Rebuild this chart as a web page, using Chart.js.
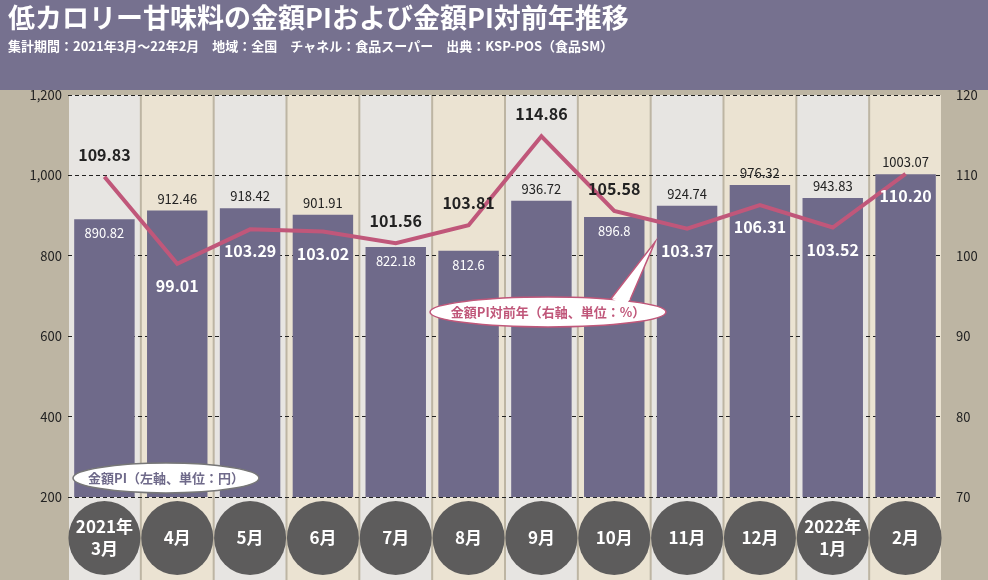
<!DOCTYPE html><html><head><meta charset="utf-8">
<script src="https://cdn.jsdelivr.net/npm/chart.js@4"></script>
<style>body{margin:0;background:#fff}#w{width:988px;height:580px;position:relative}</style></head><body><div id="w"><canvas id="c" width="988" height="580"></canvas></div>
<script>
const months=['2021年\n3月','4月','5月','6月','7月','8月','9月','10月','11月','12月','2022年\n1月','2月'];
const amountPI=[890.82,912.46,918.42,901.91,822.18,812.6,936.72,896.8,924.74,976.32,943.83,1003.07];
const yoy=[109.83,99.01,103.29,103.02,101.56,103.81,114.86,105.58,103.37,106.31,103.52,110.20];
const yoyLabels=['109.83','99.01','103.29','103.02','101.56','103.81','114.86','105.58','103.37','106.31','103.52','110.20'];
const barLabelInside=[true,false,false,false,true,true,false,true,false,false,false,false];
const yoyLabelAbove=[true,false,false,false,true,true,true,true,false,false,false,false];
const leftTicks=[200,400,600,800,1000,1200];
const rightTicks=[70,80,90,100,110,120];
const F='"Noto Sans CJK JP","Noto Sans",sans-serif';
function ellipse(ctx,cx,cy,rx,ry){ctx.beginPath();ctx.ellipse(cx,cy,rx,ry,0,0,Math.PI*2);}
const deco={id:'deco',
beforeDraw(ch){const c=ch.ctx,a=ch.chartArea;c.save();
c.fillStyle='#bdb5a3';c.fillRect(0,0,988,580);
c.fillStyle='#76718f';c.fillRect(0,0,988,90);
const w=(a.right-a.left)/months.length;
months.forEach((m,i)=>{c.fillStyle=i%2?'#ebe3d2':'#e7e5e2';c.fillRect(a.left+i*w+1,a.top,w-2,580-a.top);});
c.fillStyle='#fff';c.font='bold 27px '+F;c.textBaseline='top';c.fillText('低カロリー甘味料の金額PIおよび金額PI対前年推移',8,4);
c.font='bold 13px '+F;c.fillText('集計期間：2021年3月～22年2月　地域：全国　チャネル：食品スーパー　出典：KSP-POS（食品SM）',8,40);
c.restore();},
afterDraw(ch){const c=ch.ctx,x=ch.scales.x,yL=ch.scales.y,yR=ch.scales.y1;c.save();
c.textAlign='center';c.textBaseline='middle';
months.forEach((m,i)=>{const cx=x.getPixelForValue(i);c.fillStyle='#5d5c5c';ellipse(c,cx,538,36,37);c.fill();
c.fillStyle='#fff';c.font='bold 17px '+F;const ls=m.split('\n');ls.forEach((l,j)=>c.fillText(l,cx,538+(j-(ls.length-1)/2)*22));
const by=yL.getPixelForValue(amountPI[i]);c.font='13px '+F;
if(barLabelInside[i]){c.fillStyle='#fff';c.fillText(amountPI[i],cx,by+14);}else{c.fillStyle='#222';c.fillText(amountPI[i],cx,by-12);}
const ly=yR.getPixelForValue(yoy[i]);c.font='bold 16px '+F;
if(yoyLabelAbove[i]){c.fillStyle='#222';c.fillText(yoyLabels[i],cx,ly-22);}else{c.fillStyle='#fff';c.fillText(yoyLabels[i],cx,ly+22);}});
c.fillStyle='#fff';c.strokeStyle='#c0577a';c.lineWidth=1.5;
c.beginPath();c.moveTo(610,300);c.lineTo(655,242);c.lineTo(630,300);c.closePath();c.fill();c.stroke();
ellipse(c,548,312,118,15);c.fill();c.stroke();
c.fillStyle='#fff';c.beginPath();c.moveTo(612,299);c.lineTo(630,299);c.lineTo(625,306);c.fill();
c.fillStyle='#c0577a';c.font='bold 13px '+F;c.fillText('金額PI対前年（右軸、単位：%）',548,312);
c.fillStyle='#fff';c.strokeStyle='#777';ellipse(c,166,478,93,15);c.fill();c.stroke();
c.fillStyle='#6f6a8a';c.fillText('金額PI（左軸、単位：円）',166,478);
c.restore();}};
new Chart(document.getElementById('c'),{data:{labels:months,datasets:[
{type:'line',data:yoy,yAxisID:'y1',borderColor:'#c0577a',borderWidth:4,pointRadius:0,tension:0,order:0},
{type:'bar',data:amountPI,yAxisID:'y',backgroundColor:'#6f6a8a',barPercentage:0.83,categoryPercentage:1,order:1}]},
options:{responsive:false,animation:false,devicePixelRatio:1,layout:{padding:{top:95,bottom:83,left:0,right:0}},
plugins:{legend:{display:false},tooltip:{enabled:false}},
scales:{x:{display:false,offset:true},
y:{min:200,max:1200,afterBuildTicks:s=>{s.ticks=leftTicks.map(v=>({value:v}))},afterFit:s=>{s.width=68},
grid:{color:'#222',lineWidth:1,drawTicks:false},border:{display:false,dash:[4,3]},ticks:{color:'#222',font:{size:13,family:F},padding:6}},
y1:{position:'right',min:70,max:120,afterBuildTicks:s=>{s.ticks=rightTicks.map(v=>({value:v}))},afterFit:s=>{s.width=46},
grid:{display:false},border:{display:false},ticks:{color:'#222',font:{size:13,family:F},padding:6}}}}
,plugins:[deco]});
</script></body></html>
